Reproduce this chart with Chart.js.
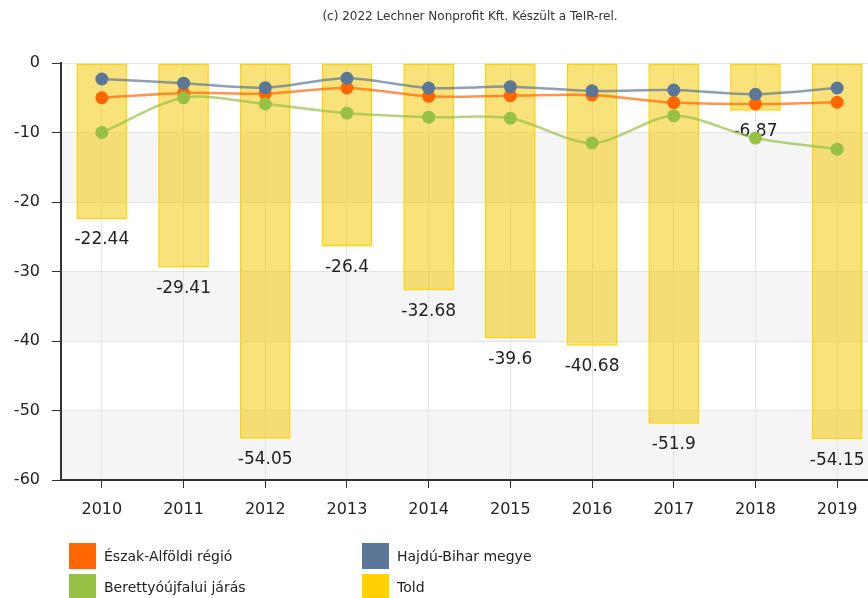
<!DOCTYPE html>
<html>
<head>
<meta charset="utf-8">
<script src="https://cdn.jsdelivr.net/npm/chart.js@4.4.1/dist/chart.umd.min.js"></script>
<style>
  html, body { margin: 0; padding: 0; overflow: hidden; background: #fff; width: 868px; height: 598px; }
  #wrap { position: relative; width: 940px; height: 598px; }
  #c { position: absolute; left: 0; top: 0; }
  #title { position: absolute; left: 0; top: 9px; width: 940px; text-align: center; font: 12px "DejaVu Sans", sans-serif; color: #333; }
  .lg { position: absolute; font: 14px "DejaVu Sans", sans-serif; color: #222; white-space: nowrap; }
  .lg span.box { position: absolute; left: 0; top: 0; width: 27px; height: 26px; }
  .lg span.txt { position: absolute; left: 35px; top: 5px; }
</style>
</head>
<body>
<div id="wrap">
  <canvas id="c" width="940" height="598"></canvas>
  <div id="title">(c) 2022 Lechner Nonprofit Kft. Készült a TeIR-rel.</div>
  <div id="legend"></div>
</div>
<script>
const years = ['2010','2011','2012','2013','2014','2015','2016','2017','2018','2019'];
const told = [-22.44, -29.41, -54.05, -26.4, -32.68, -39.6, -40.68, -51.9, -6.87, -54.15];
const eszakAlfoldi = [-5.0, -4.3, -4.4, -3.6, -4.8, -4.7, -4.6, -5.7, -5.9, -5.65];
const hajduBihar = [-2.3, -2.9, -3.55, -2.2, -3.6, -3.4, -4.0, -3.9, -4.5, -3.6];
const berettyoujfalui = [-10.0, -5.0, -5.9, -7.2, -7.8, -7.95, -11.5, -7.6, -10.8, -12.4];
const yTicks = [0, -10, -20, -30, -40, -50, -60];

const seriesNames = ['Észak-Alföldi régió', 'Hajdú-Bihar megye', 'Berettyóújfalui járás', 'Told'];
const colors = ['#ff6600', '#5b7797', '#97c145', '#ffd200'];

// HTML legend
const legendPos = [[69, 543], [362, 543], [69, 574], [362, 574]];
const legendEl = document.getElementById('legend');
seriesNames.forEach((n, i) => {
  const d = document.createElement('div');
  d.className = 'lg';
  d.style.left = legendPos[i][0] + 'px';
  d.style.top = legendPos[i][1] + 'px';
  d.innerHTML = '<span class="box" style="background:' + colors[i] + '"></span><span class="txt">' + n + '</span>';
  legendEl.appendChild(d);
});

const bandPlugin = {
  id: 'bands',
  beforeDraw(chart) {
    const { ctx, chartArea, scales } = chart;
    const y = scales.y;
    ctx.save();
    ctx.fillStyle = '#f5f5f5';
    for (let v = -10; v > -60; v -= 20) {
      const y1 = y.getPixelForValue(v);
      const y2 = y.getPixelForValue(v - 10);
      ctx.fillRect(chartArea.left, y1, chartArea.right - chartArea.left, y2 - y1);
    }
    ctx.restore();
  }
};

const labelPlugin = {
  id: 'barLabels',
  afterDatasetDraw(chart, args) {
    if (args.index !== 3) return;
    const { ctx } = chart;
    const meta = chart.getDatasetMeta(3);
    ctx.save();
    ctx.font = '17px "DejaVu Sans", sans-serif';
    ctx.fillStyle = '#222';
    ctx.textAlign = 'center';
    ctx.textBaseline = 'middle';
    meta.data.forEach((bar, i) => {
      ctx.fillText(String(told[i]), bar.x, bar.y + 21);
    });
    ctx.restore();
  }
};

function alpha(hex, a) {
  const r = parseInt(hex.slice(1, 3), 16), g = parseInt(hex.slice(3, 5), 16), b = parseInt(hex.slice(5, 7), 16);
  return 'rgba(' + r + ',' + g + ',' + b + ',' + a + ')';
}

const lineDs = (i, data, order) => ({
  type: 'line',
  label: seriesNames[i],
  data: data,
  borderColor: alpha(colors[i], 0.7),
  backgroundColor: colors[i],
  borderWidth: 2.5,
  tension: 0.3,
  pointRadius: 6.5,
  pointBorderWidth: 0,
  pointBackgroundColor: colors[i],
  pointHoverRadius: 6.5,
  fill: false,
  order: order
});

new Chart(document.getElementById('c'), {
  data: {
    labels: years,
    datasets: [
      lineDs(0, eszakAlfoldi, 2),
      lineDs(1, hajduBihar, 1),
      lineDs(2, berettyoujfalui, 0),
      {
        type: 'bar',
        label: seriesNames[3],
        data: told,
        backgroundColor: 'rgba(243,199,0,0.52)',
        borderColor: '#ffd200',
        borderWidth: 1.5,
        borderSkipped: false,
        barPercentage: 0.62,
        categoryPercentage: 1,
        order: 3
      }
    ]
  },
  options: {
    responsive: false,
    animation: false,
    layout: { padding: { top: 63, left: 0, right: 62, bottom: 0 } },
    plugins: { legend: { display: false }, title: { display: false }, tooltip: { enabled: false } },
    scales: {
      x: {
        type: 'category',
        offset: true,
        afterFit(s) { s.height = 598 - 480; },
        grid: { offset: false, color: '#e4e4e4', tickColor: '#333', tickLength: 8, lineWidth: 1 },
        border: { display: true, color: '#333', width: 2 },
        ticks: { color: '#222', font: { family: 'DejaVu Sans', size: 16 }, padding: 12, maxRotation: 0, autoSkip: false }
      },
      y: {
        min: -60,
        max: 0,
        afterFit(s) { s.width = 61; },
        afterBuildTicks(s) { s.ticks = yTicks.map(v => ({ value: v })); },
        grid: { color: '#e4e4e4', tickColor: '#333', tickLength: 9, lineWidth: 1 },
        border: { display: true, color: '#333', width: 2 },
        ticks: { color: '#222', font: { family: 'DejaVu Sans', size: 16 }, padding: 12 }
      }
    }
  },
  plugins: [bandPlugin, labelPlugin]
});
</script>
</body>
</html>
